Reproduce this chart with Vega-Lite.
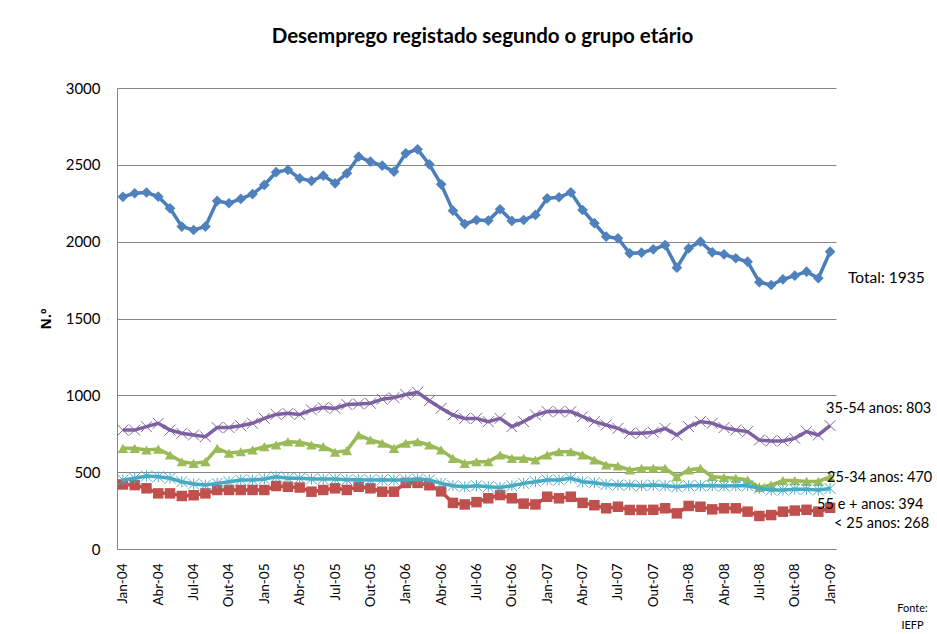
{
  "$schema": "https://vega.github.io/schema/vega-lite/v6.json",
  "width": 719,
  "height": 461,
  "autosize": {"type": "none"},
  "padding": {"left": 117, "top": 88, "right": 101, "bottom": 85},
  "background": "white",
  "title": {
    "text": "Desemprego registado segundo o grupo etário",
    "font": "Lato", "fontSize": 20.5, "fontWeight": "bold", "color": "#000000",
    "anchor": "middle", "frame": "group", "baseline": "alphabetic", "offset": 18, "dx": 6
  },
  "config": {
    "view": {"stroke": null},
    "font": "Lato"
  },
  "datasets": {
    "main": [
      {"mes": "Jan-04", "total": 2292, "a3554": 774, "a2534": 655, "a55": 449, "a25": 420},
      {"mes": "Fev-04", "total": 2315, "a3554": 774, "a2534": 655, "a55": 460, "a25": 416},
      {"mes": "Mar-04", "total": 2320, "a3554": 796, "a2534": 644, "a55": 475, "a25": 395},
      {"mes": "Abr-04", "total": 2293, "a3554": 818, "a2534": 650, "a55": 470, "a25": 362},
      {"mes": "Mai-04", "total": 2217, "a3554": 774, "a2534": 612, "a55": 460, "a25": 362},
      {"mes": "Jun-04", "total": 2098, "a3554": 753, "a2534": 568, "a55": 438, "a25": 345},
      {"mes": "Jul-04", "total": 2076, "a3554": 742, "a2534": 557, "a55": 423, "a25": 350},
      {"mes": "Ago-04", "total": 2098, "a3554": 731, "a2534": 568, "a55": 416, "a25": 362},
      {"mes": "Set-04", "total": 2265, "a3554": 790, "a2534": 655, "a55": 427, "a25": 384},
      {"mes": "Out-04", "total": 2250, "a3554": 790, "a2534": 623, "a55": 438, "a25": 384},
      {"mes": "Nov-04", "total": 2278, "a3554": 802, "a2534": 633, "a55": 449, "a25": 384},
      {"mes": "Dez-04", "total": 2310, "a3554": 818, "a2534": 644, "a55": 449, "a25": 384},
      {"mes": "Jan-05", "total": 2369, "a3554": 850, "a2534": 666, "a55": 456, "a25": 384},
      {"mes": "Fev-05", "total": 2452, "a3554": 876, "a2534": 677, "a55": 470, "a25": 410},
      {"mes": "Mar-05", "total": 2467, "a3554": 883, "a2534": 698, "a55": 460, "a25": 405},
      {"mes": "Abr-05", "total": 2412, "a3554": 875, "a2534": 695, "a55": 460, "a25": 400},
      {"mes": "Mai-05", "total": 2395, "a3554": 905, "a2534": 677, "a55": 455, "a25": 373},
      {"mes": "Jun-05", "total": 2430, "a3554": 920, "a2534": 666, "a55": 455, "a25": 384},
      {"mes": "Jul-05", "total": 2380, "a3554": 915, "a2534": 630, "a55": 455, "a25": 395},
      {"mes": "Ago-05", "total": 2445, "a3554": 940, "a2534": 640, "a55": 450, "a25": 384},
      {"mes": "Set-05", "total": 2553, "a3554": 944, "a2534": 742, "a55": 450, "a25": 405},
      {"mes": "Out-05", "total": 2521, "a3554": 948, "a2534": 709, "a55": 449, "a25": 395},
      {"mes": "Nov-05", "total": 2495, "a3554": 975, "a2534": 688, "a55": 450, "a25": 373},
      {"mes": "Dez-05", "total": 2456, "a3554": 985, "a2534": 655, "a55": 449, "a25": 373},
      {"mes": "Jan-06", "total": 2575, "a3554": 1005, "a2534": 688, "a55": 449, "a25": 430},
      {"mes": "Fev-06", "total": 2601, "a3554": 1020, "a2534": 698, "a55": 455, "a25": 430},
      {"mes": "Mar-06", "total": 2503, "a3554": 965, "a2534": 677, "a55": 449, "a25": 415},
      {"mes": "Abr-06", "total": 2373, "a3554": 916, "a2534": 644, "a55": 427, "a25": 375},
      {"mes": "Mai-06", "total": 2202, "a3554": 872, "a2534": 590, "a55": 412, "a25": 300},
      {"mes": "Jun-06", "total": 2115, "a3554": 850, "a2534": 557, "a55": 405, "a25": 290},
      {"mes": "Jul-06", "total": 2141, "a3554": 850, "a2534": 568, "a55": 412, "a25": 305},
      {"mes": "Ago-06", "total": 2137, "a3554": 829, "a2534": 568, "a55": 405, "a25": 330},
      {"mes": "Set-06", "total": 2211, "a3554": 850, "a2534": 612, "a55": 400, "a25": 351},
      {"mes": "Out-06", "total": 2135, "a3554": 796, "a2534": 590, "a55": 412, "a25": 330},
      {"mes": "Nov-06", "total": 2141, "a3554": 829, "a2534": 590, "a55": 427, "a25": 295},
      {"mes": "Dez-06", "total": 2174, "a3554": 872, "a2534": 579, "a55": 438, "a25": 290},
      {"mes": "Jan-07", "total": 2282, "a3554": 894, "a2534": 612, "a55": 449, "a25": 340},
      {"mes": "Fev-07", "total": 2289, "a3554": 894, "a2534": 633, "a55": 449, "a25": 330},
      {"mes": "Mar-07", "total": 2321, "a3554": 894, "a2534": 633, "a55": 460, "a25": 340},
      {"mes": "Abr-07", "total": 2206, "a3554": 861, "a2534": 612, "a55": 438, "a25": 300},
      {"mes": "Mai-07", "total": 2120, "a3554": 829, "a2534": 579, "a55": 431, "a25": 285},
      {"mes": "Jun-07", "total": 2033, "a3554": 807, "a2534": 547, "a55": 420, "a25": 265},
      {"mes": "Jul-07", "total": 2022, "a3554": 785, "a2534": 540, "a55": 416, "a25": 275},
      {"mes": "Ago-07", "total": 1924, "a3554": 753, "a2534": 514, "a55": 416, "a25": 254},
      {"mes": "Set-07", "total": 1928, "a3554": 753, "a2534": 525, "a55": 412, "a25": 254},
      {"mes": "Out-07", "total": 1950, "a3554": 760, "a2534": 525, "a55": 416, "a25": 255},
      {"mes": "Nov-07", "total": 1978, "a3554": 785, "a2534": 525, "a55": 412, "a25": 265},
      {"mes": "Dez-07", "total": 1831, "a3554": 742, "a2534": 470, "a55": 405, "a25": 232},
      {"mes": "Jan-08", "total": 1957, "a3554": 796, "a2534": 514, "a55": 412, "a25": 280},
      {"mes": "Fev-08", "total": 2000, "a3554": 829, "a2534": 525, "a55": 412, "a25": 275},
      {"mes": "Mar-08", "total": 1931, "a3554": 818, "a2534": 470, "a55": 412, "a25": 258},
      {"mes": "Abr-08", "total": 1918, "a3554": 790, "a2534": 465, "a55": 410, "a25": 265},
      {"mes": "Mai-08", "total": 1892, "a3554": 774, "a2534": 460, "a55": 412, "a25": 265},
      {"mes": "Jun-08", "total": 1870, "a3554": 764, "a2534": 449, "a55": 412, "a25": 243},
      {"mes": "Jul-08", "total": 1736, "a3554": 709, "a2534": 400, "a55": 395, "a25": 215},
      {"mes": "Ago-08", "total": 1718, "a3554": 703, "a2534": 416, "a55": 384, "a25": 221},
      {"mes": "Set-08", "total": 1755, "a3554": 703, "a2534": 445, "a55": 384, "a25": 243},
      {"mes": "Out-08", "total": 1779, "a3554": 720, "a2534": 445, "a55": 389, "a25": 250},
      {"mes": "Nov-08", "total": 1805, "a3554": 764, "a2534": 440, "a55": 389, "a25": 255},
      {"mes": "Dez-08", "total": 1762, "a3554": 742, "a2534": 440, "a55": 384, "a25": 243},
      {"mes": "Jan-09", "total": 1935, "a3554": 803, "a2534": 470, "a55": 394, "a25": 268}
    ],
    "labels": [
      {"mes": "Jan-09", "serie": "total", "valor": 1935, "texto": "Total: 1935"},
      {"mes": "Jan-09", "serie": "a3554", "valor": 803, "texto": "35-54 anos: 803"},
      {"mes": "Jan-09", "serie": "a2534", "valor": 470, "texto": "25-34 anos: 470"},
      {"mes": "Jan-09", "serie": "a55", "valor": 394, "texto": "55 e + anos: 394"},
      {"mes": "Jan-09", "serie": "a25", "valor": 268, "texto": "< 25 anos: 268"}
    ]
  },
  "encoding": {
    "x": {
      "field": "mes", "type": "ordinal", "sort": null,
      "scale": {"type": "point", "padding": 0.5},
      "axis": {
        "values": ["Jan-04","Abr-04","Jul-04","Out-04","Jan-05","Abr-05","Jul-05","Out-05","Jan-06","Abr-06","Jul-06","Out-06","Jan-07","Abr-07","Jul-07","Out-07","Jan-08","Abr-08","Jul-08","Out-08","Jan-09"],
        "labelAngle": -90, "labelFont": "Lato", "labelFontSize": 13.5, "labelColor": "#000000",
        "labelPadding": 14, "ticks": false, "grid": false,
        "domainColor": "#868686", "domainWidth": 1,
        "title": ["Fonte:", "IEFP"], "titleFont": "Lato", "titleFontSize": 11, "titleFontWeight": "normal",
        "titleColor": "#000000", "titleAnchor": "end", "titleAlign": "center",
        "titleX": 795, "titleY": 53, "titleBaseline": "top", "titleLineHeight": 17
      }
    }
  },
  "layer": [
    {
      "data": {"name": "main"},
      "mark": {"type": "line", "color": "#4A7EBB", "strokeWidth": 3.5},
      "encoding": {
        "y": {
          "field": "total", "type": "quantitative",
          "scale": {"domain": [0, 3000], "nice": false},
          "axis": {
            "values": [0, 500, 1000, 1500, 2000, 2500, 3000], "format": "d",
            "grid": true, "gridColor": "#868686", "gridWidth": 1,
            "ticks": false, "labelPadding": 17,
            "labelFont": "Lato", "labelFontSize": 15, "labelColor": "#000000",
            "domainColor": "#868686",
            "title": "N.º", "titleFont": "Open Sans", "titleFontSize": 14, "titleFontWeight": "bold",
            "titleColor": "#000000", "titlePadding": 12
          }
        }
      }
    },
    {
      "data": {"name": "main"},
      "mark": {"type": "point", "shape": "diamond", "filled": true, "color": "#4F81BD", "size": 115, "opacity": 1},
      "encoding": {"y": {"field": "total", "type": "quantitative"}}
    },
    {
      "data": {"name": "main"},
      "mark": {"type": "line", "color": "#BE4B48", "strokeWidth": 3.5},
      "encoding": {"y": {"field": "a25", "type": "quantitative"}}
    },
    {
      "data": {"name": "main"},
      "mark": {"type": "point", "shape": "square", "filled": true, "color": "#C0504D", "size": 110, "opacity": 1},
      "encoding": {"y": {"field": "a25", "type": "quantitative"}}
    },
    {
      "data": {"name": "main"},
      "mark": {"type": "line", "color": "#98B954", "strokeWidth": 3.5},
      "encoding": {"y": {"field": "a2534", "type": "quantitative"}}
    },
    {
      "data": {"name": "main"},
      "mark": {"type": "point", "shape": "triangle-up", "filled": true, "color": "#9BBB59", "size": 110, "opacity": 1},
      "encoding": {"y": {"field": "a2534", "type": "quantitative"}}
    },
    {
      "data": {"name": "main"},
      "mark": {"type": "line", "color": "#7D60A0", "strokeWidth": 3.5},
      "encoding": {"y": {"field": "a3554", "type": "quantitative"}}
    },
    {
      "data": {"name": "main"},
      "mark": {"type": "point", "shape": "M-1,-1L1,1M1,-1L-1,1", "filled": false, "color": "#8064A2", "size": 120, "strokeWidth": 1, "opacity": 1},
      "encoding": {"y": {"field": "a3554", "type": "quantitative"}}
    },
    {
      "data": {"name": "main"},
      "mark": {"type": "line", "color": "#46AAC5", "strokeWidth": 3.5},
      "encoding": {"y": {"field": "a55", "type": "quantitative"}}
    },
    {
      "data": {"name": "main"},
      "mark": {"type": "point", "shape": "M-1,-1L1,1M1,-1L-1,1M0,-1L0,1", "filled": false, "color": "#4BACC6", "size": 120, "strokeWidth": 1, "opacity": 1},
      "encoding": {"y": {"field": "a55", "type": "quantitative"}}
    },
    {
      "data": {"name": "labels"},
      "transform": [{"filter": "datum.serie === 'total'"}],
      "mark": {"type": "text", "align": "left", "baseline": "middle", "font": "Lato", "fontSize": 15.5, "color": "#000000", "dx": 18, "dy": 26},
      "encoding": {"y": {"field": "valor", "type": "quantitative"}, "text": {"field": "texto"}}
    },
    {
      "data": {"name": "labels"},
      "transform": [{"filter": "datum.serie === 'a3554'"}],
      "mark": {"type": "text", "align": "left", "baseline": "middle", "font": "Lato", "fontSize": 14.5, "color": "#000000", "dx": -4, "dy": -17},
      "encoding": {"y": {"field": "valor", "type": "quantitative"}, "text": {"field": "texto"}}
    },
    {
      "data": {"name": "labels"},
      "transform": [{"filter": "datum.serie === 'a2534'"}],
      "mark": {"type": "text", "align": "left", "baseline": "middle", "font": "Lato", "fontSize": 14.5, "color": "#000000", "dx": -3, "dy": 1},
      "encoding": {"y": {"field": "valor", "type": "quantitative"}, "text": {"field": "texto"}}
    },
    {
      "data": {"name": "labels"},
      "transform": [{"filter": "datum.serie === 'a55'"}],
      "mark": {"type": "text", "align": "left", "baseline": "middle", "font": "Lato", "fontSize": 14.5, "color": "#000000", "dx": -13, "dy": 17},
      "encoding": {"y": {"field": "valor", "type": "quantitative"}, "text": {"field": "texto"}}
    },
    {
      "data": {"name": "labels"},
      "transform": [{"filter": "datum.serie === 'a25'"}],
      "mark": {"type": "text", "align": "left", "baseline": "middle", "font": "Lato", "fontSize": 14.5, "color": "#000000", "dx": 4, "dy": 16},
      "encoding": {"y": {"field": "valor", "type": "quantitative"}, "text": {"field": "texto"}}
    }
  ]
}
